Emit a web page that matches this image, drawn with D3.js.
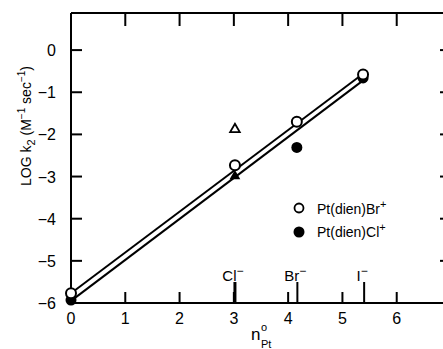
<!DOCTYPE html>
<html><head><meta charset="utf-8">
<script src="https://cdn.jsdelivr.net/npm/d3@7/dist/d3.min.js"></script>
<style>body{margin:0;background:#fff}svg{display:block}text{font-family:"Liberation Sans",Arial,sans-serif;fill:#000}</style>
</head><body><svg id="c" width="443" height="349"></svg>
<script>
// Data
const xTicks = [0, 1, 2, 3, 4, 5, 6];
const yTicks = [0, -1, -2, -3, -4, -5, -6];
const brX = [0, 3.02, 4.16, 5.38];          // Pt(dien)Br+ (open circles)
const brY = [-5.77, -2.73, -1.70, -0.58];
const clX = [0, 4.16, 5.38];                // Pt(dien)Cl+ (filled circles)
const clY = [-5.93, -2.31, -0.66];
const triFilled = [[3.02, -2.99]];
const triOpen = [[3.02, -1.88]];
const upperLine = [[0, -5.77], [5.38, -0.56]];
const lowerLine = [[0, -5.95], [5.40, -0.70]];
const ionNames = ["Cl", "Br", "I"];
const ionX = [3.02, 4.17, 5.40];

const svg = d3.select("#c");
const x = d3.scaleLinear().domain([0, 7]).range([71, 451]);
const y = d3.scaleLinear().domain([-6, 0.88]).range([303, 13]);

// Frame
const g = svg.append("g").attr("stroke", "#000").attr("stroke-width", 2).attr("fill", "none");
g.append("path").attr("d", `M${x(0)},${y(0.88)}H${x(7)}M${x(0)},${y(0.88)}V${y(-6)}H${x(7)}V${y(0.88)}`);

// Axis ticks (inward)
g.selectAll(".yl").data(yTicks).join("line")
  .attr("x1", x(0)).attr("x2", x(0) + 11).attr("y1", d => y(d)).attr("y2", d => y(d));
g.selectAll(".yr").data(yTicks).join("line")
  .attr("x1", x(7)).attr("x2", x(7) - 11).attr("y1", d => y(d)).attr("y2", d => y(d));
g.selectAll(".xb").data(xTicks.slice(1)).join("line")
  .attr("x1", d => x(d)).attr("x2", d => x(d)).attr("y1", y(-6)).attr("y2", y(-6) - 11);
g.selectAll(".xt").data(xTicks.slice(1)).join("line")
  .attr("x1", d => x(d)).attr("x2", d => x(d)).attr("y1", y(0.88)).attr("y2", y(0.88) + 13);

// Tick labels
svg.selectAll(".ylab").data(yTicks).join("text")
  .attr("x", 56).attr("y", d => y(d) + 6).attr("text-anchor", "end")
  .attr("font-size", 16).text(d => d === 0 ? "0" : "\u2212" + Math.abs(d));
svg.selectAll(".xlab").data(xTicks).join("text")
  .attr("x", d => x(d)).attr("y", 324).attr("text-anchor", "middle")
  .attr("font-size", 16).text(d => d);

// Ion markers
g.selectAll(".ion").data(ionX).join("line")
  .attr("x1", d => x(d)).attr("x2", d => x(d)).attr("y1", y(-6)).attr("y2", y(-6) - 21)
  .attr("stroke-width", (d, i) => i === 0 ? 3 : 2);
const ionT = svg.selectAll(".iont").data(ionNames).join("text")
  .attr("x", (d, i) => x(ionX[i]) - 2).attr("y", 281).attr("text-anchor", "middle").attr("font-size", 15);
ionT.append("tspan").text(d => d);
ionT.append("tspan").attr("dy", -6).attr("font-size", 12).text("\u2212");

// Lines
const line = d3.line().x(d => x(d[0])).y(d => y(d[1]));
g.append("path").attr("d", line(upperLine));
g.append("path").attr("d", line(lowerLine));

// Markers
svg.selectAll(".cl").data(clX).join("circle")
  .attr("cx", d => x(d)).attr("cy", (d, i) => y(clY[i])).attr("r", 5.5).attr("fill", "#000");
svg.selectAll(".br").data(brX).join("circle")
  .attr("cx", d => x(d)).attr("cy", (d, i) => y(brY[i])).attr("r", 5)
  .attr("fill", "#fff").attr("stroke", "#000").attr("stroke-width", 2);
const tri = d3.symbol().type(d3.symbolTriangle).size(50);
svg.selectAll(".tf").data(triFilled).join("path").attr("d", tri)
  .attr("transform", d => `translate(${x(d[0])},${y(d[1])})`).attr("fill", "#000");
svg.selectAll(".to").data(triOpen).join("path").attr("d", d3.symbol().type(d3.symbolTriangle).size(40))
  .attr("transform", d => `translate(${x(d[0])},${y(d[1])})`).attr("fill", "#fff").attr("stroke", "#000").attr("stroke-width", 1.8);

// Legend
svg.append("circle").attr("cx", 299).attr("cy", 208).attr("r", 4.5).attr("fill", "#fff").attr("stroke", "#000").attr("stroke-width", 1.8);
svg.append("circle").attr("cx", 299).attr("cy", 232).attr("r", 5.5).attr("fill", "#000");
const l1 = svg.append("text").attr("x", 317).attr("y", 214).attr("font-size", 14);
l1.append("tspan").text("Pt(dien)Br");
l1.append("tspan").attr("dy", -6).attr("font-size", 11).text("+");
const l2 = svg.append("text").attr("x", 317).attr("y", 237).attr("font-size", 14);
l2.append("tspan").text("Pt(dien)Cl");
l2.append("tspan").attr("dy", -6).attr("font-size", 11).text("+");

// Axis titles
svg.append("text").attr("x", 251).attr("y", 340).attr("font-size", 17).text("n");
svg.append("text").attr("x", 261).attr("y", 331).attr("font-size", 11).text("o");
svg.append("text").attr("x", 261).attr("y", 348).attr("font-size", 11).text("Pt");

const yt = svg.append("text").attr("transform", "translate(31,126) rotate(-90)")
  .attr("text-anchor", "middle").attr("font-size", 14);
yt.append("tspan").text("LOG k");
yt.append("tspan").attr("dy", 4).attr("font-size", 11).text("2");
yt.append("tspan").attr("dy", -4).text(" (M");
yt.append("tspan").attr("dy", -6).attr("font-size", 10).text("\u22121");
yt.append("tspan").attr("dy", 6).text(" sec");
yt.append("tspan").attr("dy", -6).attr("font-size", 10).text("\u22121");
yt.append("tspan").attr("dy", 6).text(")");
</script></body></html>
